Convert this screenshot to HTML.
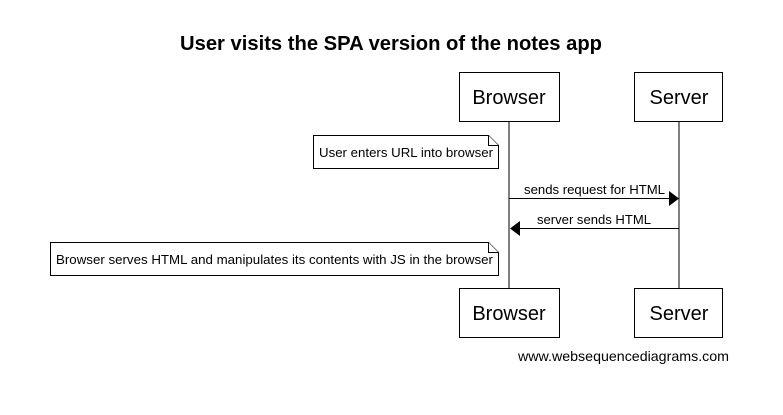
<!DOCTYPE html>
<html><head><style>
body{margin:0;background:#fff;width:783px;height:410px;overflow:hidden}
</style></head><body>
<svg width="783" height="410" xmlns="http://www.w3.org/2000/svg" font-family="Liberation Sans, sans-serif">
<text x="180" y="50" font-size="20" font-weight="bold" textLength="422" lengthAdjust="spacingAndGlyphs">User visits the SPA version of the notes app</text>
<line x1="509" y1="121" x2="509" y2="288" stroke="#000"/>
<line x1="679" y1="121" x2="679" y2="288" stroke="#000"/>
<g fill="#fff" stroke="#000">
<rect x="459.5" y="72.5" width="100" height="49"/>
<rect x="634.5" y="72.5" width="88" height="49"/>
<rect x="459.5" y="288.5" width="100" height="49"/>
<rect x="634.5" y="288.5" width="88" height="49"/>
<path d="M313.5 135.5H488.5L498.5 145.5V168.5H313.5Z"/>
<path d="M488.5 135.5V145.5H498.5"/>
<path d="M50.5 242.5H488.5L498.5 252.5V275.5H50.5Z"/>
<path d="M488.5 242.5V252.5H498.5"/>
</g>
<g font-size="20" text-anchor="middle">
<text x="509" y="104">Browser</text><text x="679" y="104">Server</text>
<text x="509" y="320">Browser</text><text x="679" y="320">Server</text>
</g>
<g font-size="13.3">
<text x="319" y="157" textLength="174" lengthAdjust="spacingAndGlyphs">User enters URL into browser</text>
<text x="56" y="264" textLength="437" lengthAdjust="spacingAndGlyphs">Browser serves HTML and manipulates its contents with JS in the browser</text>
<text x="524" y="194" textLength="141" lengthAdjust="spacingAndGlyphs">sends request for HTML</text>
<text x="537" y="224" textLength="114" lengthAdjust="spacingAndGlyphs">server sends HTML</text>
<text x="518" y="361" font-size="14" textLength="211" lengthAdjust="spacingAndGlyphs">www.websequencediagrams.com</text>
</g>
<line x1="509" y1="198.5" x2="670" y2="198.5" stroke="#000"/>
<path d="M669 191L679 198.5L669 206Z"/>
<line x1="519" y1="228.5" x2="679" y2="228.5" stroke="#000"/>
<path d="M520 221L510 228.5L520 236Z"/>
</svg>
</body></html>
